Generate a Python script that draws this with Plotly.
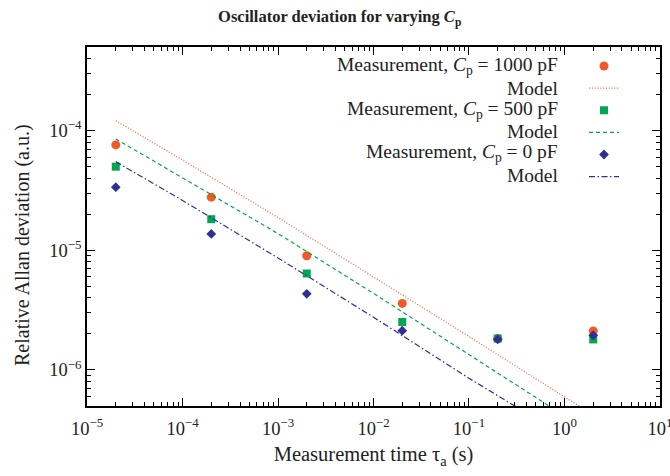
import plotly.graph_objects as go

# Measurement data
tau_meas = [2e-5, 2e-4, 2e-3, 2e-2, 2e-1, 2.0]
meas_1000 = [7.6e-5, 2.78e-5, 9.0e-6, 3.6e-6, 1.83e-6, 2.12e-6]
meas_500 = [5.0e-5, 1.82e-5, 6.4e-6, 2.52e-6, 1.83e-6, 1.8e-6]
meas_0 = [3.37e-5, 1.37e-5, 4.33e-6, 2.13e-6, 1.8e-6, 1.95e-6]

# Model curves
tau_model = [2e-5, 1e-4, 1e-3, 1e-2, 1e-1, 1.0, 2.0]
model_1000 = [1.21e-4, 5.69e-5, 1.88e-5, 6.03e-6, 1.905e-6, 5.96e-7, 4.2e-7]
model_500 = [8.53e-5, 4.04e-5, 1.38e-5, 4.37e-6, 1.36e-6, 4.17e-7, 2.9e-7]
model_0 = [5.51e-5, 2.61e-5, 8.63e-6, 2.76e-6, 8.53e-7, 2.82e-7, 2.0e-7]

# Tick labels
x_tickvals = [1e-5, 1e-4, 1e-3, 1e-2, 1e-1, 1, 10]
x_ticktext = ["10<sup>−5</sup>", "10<sup>−4</sup>", "10<sup>−3</sup>", "10<sup>−2</sup>",
              "10<sup>−1</sup>", "10<sup>0</sup>", "10<sup>1</sup>"]
y_tickvals = [1e-6, 1e-5, 1e-4]
y_ticktext = ["10<sup>−6</sup>", "10<sup>−5</sup>", "10<sup>−4</sup>"]

labels = [
    "Measurement, <i>C</i><sub>p</sub> = 1000 pF", "Model",
    "Measurement, <i>C</i><sub>p</sub> = 500 pF", "Model",
    "Measurement, <i>C</i><sub>p</sub> = 0 pF", "Model",
]

C_OR = "#f05a28"
C_OR_L = "#f47a55"
C_GR = "#00a651"
C_BL = "#2e3192"
FONT = "Liberation Serif"
TXT = "#222"


def minor_vals(decades):
    return [m * 10.0 ** d for d in decades for m in range(2, 10)]


fig = go.Figure()
fig.add_trace(go.Scatter(x=tau_meas, y=meas_1000, mode="markers", name=" ",
                         marker=dict(symbol="circle", size=9, color=C_OR)))
fig.add_trace(go.Scatter(x=tau_model, y=model_1000, mode="lines", name=" ",
                         line=dict(color=C_OR_L, width=1.2, dash="1.2px,1.6px")))
fig.add_trace(go.Scatter(x=tau_meas, y=meas_500, mode="markers", name=" ",
                         marker=dict(symbol="square", size=8, color=C_GR)))
fig.add_trace(go.Scatter(x=tau_model, y=model_500, mode="lines", name=" ",
                         line=dict(color=C_GR, width=1.2, dash="4px,3px")))
fig.add_trace(go.Scatter(x=tau_meas, y=meas_0, mode="markers", name=" ",
                         marker=dict(symbol="diamond", size=7.5, color=C_BL)))
fig.add_trace(go.Scatter(x=tau_model, y=model_0, mode="lines", name=" ",
                         line=dict(color=C_BL, width=1.2, dash="6px,2.5px,1.5px,2.5px")))

W, H = 670, 476
L, R, T, B = 87, 10, 47, 70
pw, ph = W - L - R, H - T - B

row_y = [66, 88, 110, 131, 153, 175]
for lab, yy in zip(labels, row_y):
    fig.add_annotation(text=lab, xref="paper", yref="paper",
                       x=(560 - L) / pw, y=(H - B - yy) / ph,
                       xanchor="right", yanchor="middle", showarrow=False,
                       font=dict(family=FONT, size=19.5, color=TXT))

# y-axis title (placed as annotation to match the reference position)
fig.add_annotation(text="Relative Allan deviation (a.u.)", xref="paper", yref="paper",
                   x=(22 - L) / pw, y=(H - B - 245) / ph, textangle=-90,
                   xanchor="center", yanchor="middle", showarrow=False,
                   font=dict(family=FONT, size=20, color=TXT))

axis_common = dict(
    type="log", showline=True, linecolor="black", linewidth=1.5, mirror="ticks",
    ticks="inside", ticklen=8, tickwidth=1, tickcolor="black", showgrid=False,
    zeroline=False, tickmode="array", ticklabeloverflow="allow",
    tickfont=dict(family=FONT, size=18.5, color=TXT),
)

fig.update_xaxes(range=[-5.0002, 1.0002], tickvals=x_tickvals, ticktext=x_ticktext,
                 minor=dict(ticks="inside", ticklen=4, tickwidth=1, tickcolor="black",
                            showgrid=False, tickmode="array",
                            tickvals=minor_vals(range(-5, 1))),
                 ticklabelstandoff=5, **axis_common,
                 title=dict(text="Measurement time τ<sub>a</sub> (s)",
                            font=dict(family=FONT, size=20.5, color=TXT), standoff=9))
fig.update_yaxes(range=[-6.301, -3.301], tickvals=y_tickvals, ticktext=y_ticktext,
                 minor=dict(ticks="inside", ticklen=4, tickwidth=1, tickcolor="black",
                            showgrid=False, tickmode="array",
                            tickvals=minor_vals(range(-7, -3))),
                 **axis_common)

fig.update_layout(
    width=W, height=H,
    margin=dict(l=L, r=R, t=T, b=B, autoexpand=False),
    paper_bgcolor="white", plot_bgcolor="white",
    title=dict(text="<b>Oscillator deviation for varying <i>C</i><sub>p</sub></b>",
               x=0.507, xanchor="center", y=0.965, yanchor="middle",
               font=dict(family=FONT, size=16.5, color=TXT)),
    showlegend=True,
    legend=dict(x=(584 - L) / pw, y=1 - (50 - T) / ph, xanchor="left", yanchor="top",
                bgcolor="rgba(0,0,0,0)", borderwidth=0, itemwidth=30,
                font=dict(family=FONT, size=14.7), tracegroupgap=0),
)

fig.write_html("out.html")
